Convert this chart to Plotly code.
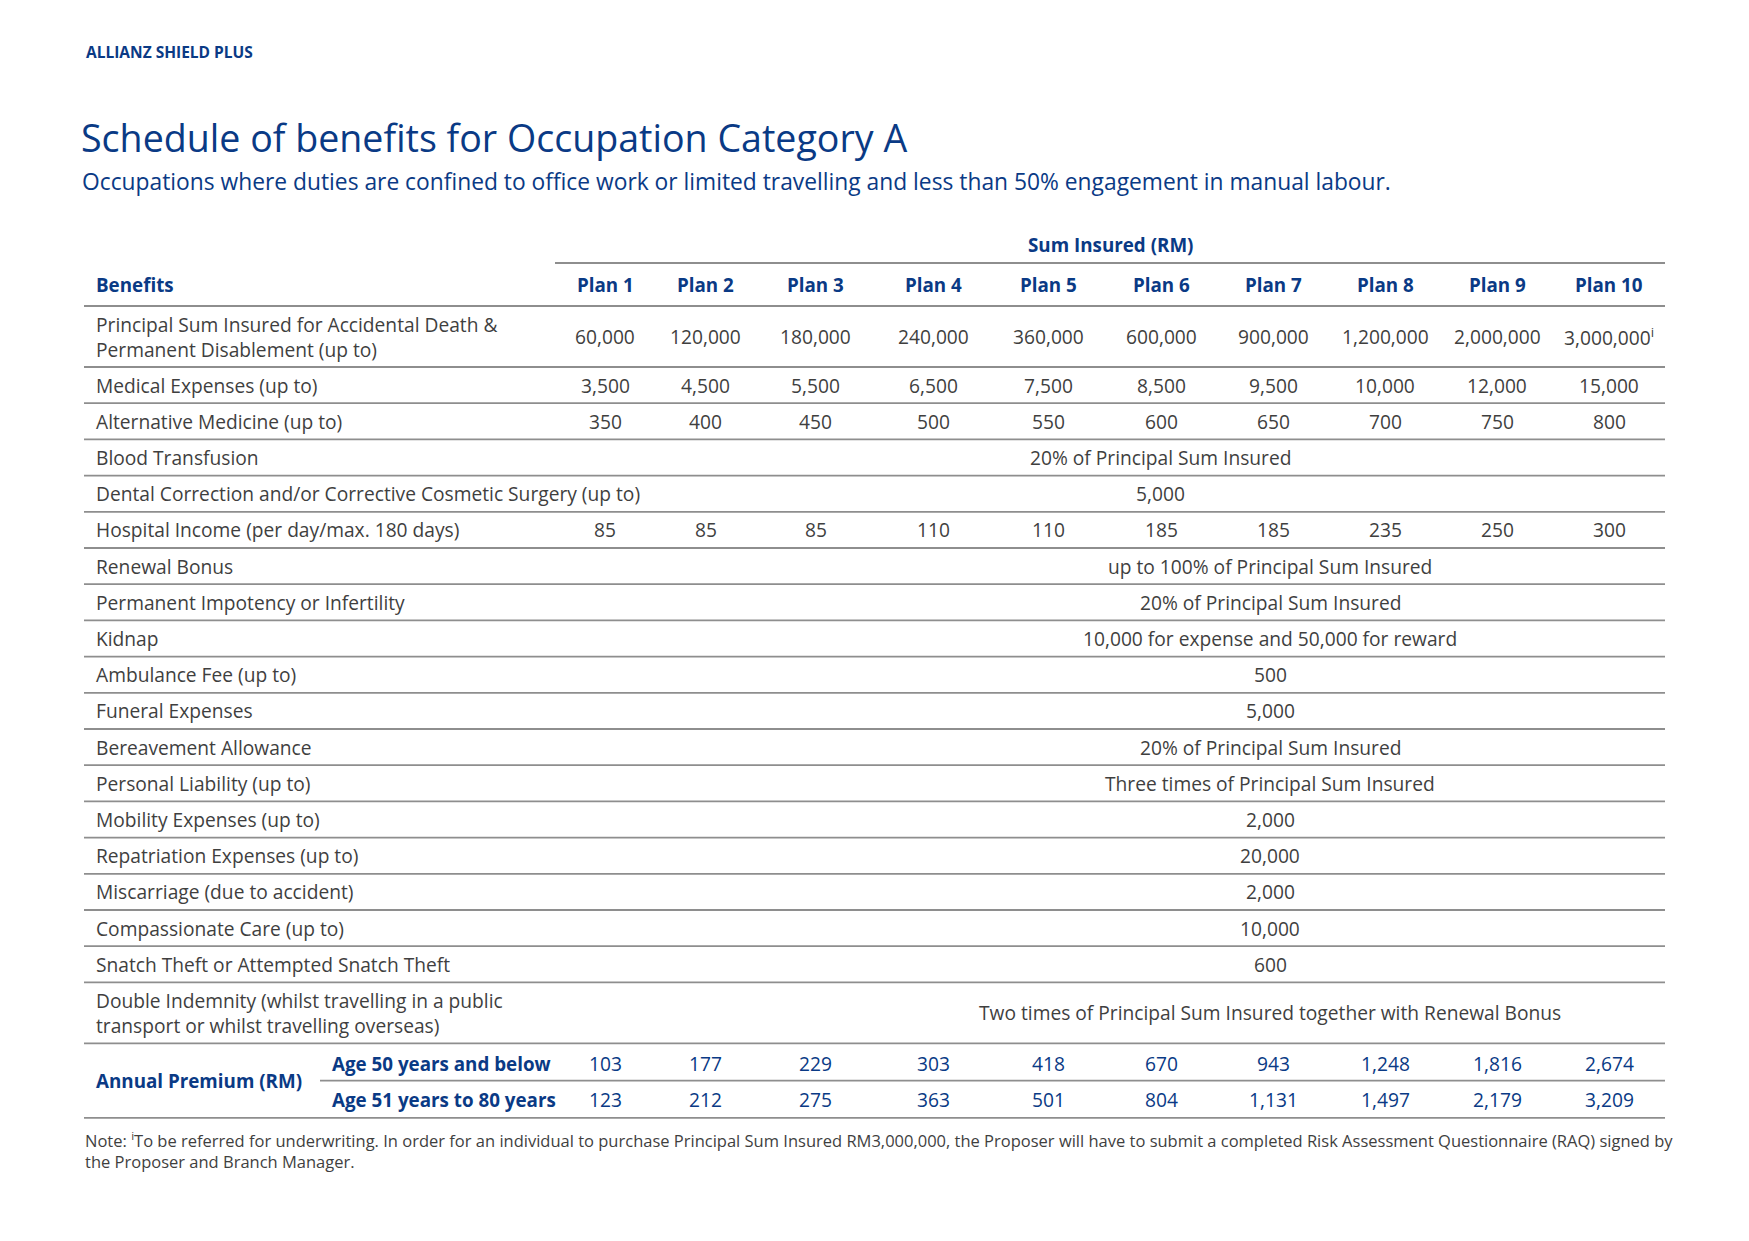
import plotly.graph_objects as go

# ---------------- data ----------------
brand = "ALLIANZ SHIELD PLUS"
title = "Schedule of benefits for Occupation Category A"
subtitle = ("Occupations where duties are confined to office work or limited travelling "
            "and less than 50% engagement in manual labour.")
group_header = "Sum Insured (RM)"
plans = ["Plan 1", "Plan 2", "Plan 3", "Plan 4", "Plan 5",
         "Plan 6", "Plan 7", "Plan 8", "Plan 9", "Plan 10"]

benefits = [
    "Principal Sum Insured for Accidental Death &<br>Permanent Disablement (up to)",
    "Medical Expenses (up to)",
    "Alternative Medicine (up to)",
    "Blood Transfusion",
    "Dental Correction and/or Corrective Cosmetic Surgery (up to)",
    "Hospital Income (per day/max. 180 days)",
    "Renewal Bonus",
    "Permanent Impotency or Infertility",
    "Kidnap",
    "Ambulance Fee (up to)",
    "Funeral Expenses",
    "Bereavement Allowance",
    "Personal Liability (up to)",
    "Mobility Expenses (up to)",
    "Repatriation Expenses (up to)",
    "Miscarriage (due to accident)",
    "Compassionate Care (up to)",
    "Snatch Theft or Attempted Snatch Theft",
    "Double Indemnity (whilst travelling in a public<br>transport or whilst travelling overseas)",
]

principal_sum = [60000, 120000, 180000, 240000, 360000, 600000, 900000, 1200000, 2000000, 3000000]
medical = [3500, 4500, 5500, 6500, 7500, 8500, 9500, 10000, 12000, 15000]
alt_medicine = [350, 400, 450, 500, 550, 600, 650, 700, 750, 800]
hospital_income = [85, 85, 85, 110, 110, 185, 185, 235, 250, 300]

# benefit values common to all plans (row index -> text)
common_values = {
    3: "20% of Principal Sum Insured",
    4: "5,000",
    6: "up to 100% of Principal Sum Insured",
    7: "20% of Principal Sum Insured",
    8: "10,000 for expense and 50,000 for reward",
    9: "500",
    10: "5,000",
    11: "20% of Principal Sum Insured",
    12: "Three times of Principal Sum Insured",
    13: "2,000",
    14: "20,000",
    15: "2,000",
    16: "10,000",
    17: "600",
    18: "Two times of Principal Sum Insured together with Renewal Bonus",
}
per_plan_values = {0: principal_sum, 1: medical, 2: alt_medicine, 5: hospital_income}
footnote_plan = 9  # plan 10 principal sum carries footnote mark

premium_label = "Annual Premium (RM)"
age_groups = ["Age 50 years and below", "Age 51 years to 80 years"]
premium_50_below = [103, 177, 229, 303, 418, 670, 943, 1248, 1816, 2674]
premium_51_80 = [123, 212, 275, 363, 501, 804, 1131, 1497, 2179, 3209]

note = ("Note: <sup>i</sup>To be referred for underwriting. In order for an individual to purchase "
        "Principal Sum Insured RM3,000,000, the Proposer will have to submit a completed Risk "
        "Assessment Questionnaire (RAQ) signed by<br>the Proposer and Branch Manager.")

# ---------------- layout / style ----------------
W, H = 1749, 1241
BLUE = "#0a3a85"
TEXT = "#3f3f3f"
LINE = "#8e8e8e"
FONT = "Open Sans"
BODY = 19.2
BOLD = 18.8

col_edges = [555, 655, 756, 875, 991, 1105, 1217, 1329, 1441, 1553, 1665]
col_centers = [(col_edges[i] + col_edges[i + 1]) / 2 for i in range(len(plans))]
table_left = 84
label_x = 94
row_h1, row_h2 = 36.2, 61.0
header_bottom = 306
span_start = {3: 1, 4: 1}  # others start at column 3

fig = go.Figure()
fig.update_layout(
    width=W, height=H, margin=dict(l=0, r=0, t=0, b=0),
    paper_bgcolor="white", plot_bgcolor="white", showlegend=False,
    xaxis=dict(range=[0, W], visible=False, fixedrange=True),
    yaxis=dict(range=[H, 0], visible=False, fixedrange=True),
)

ann = []
shapes = []


def text(x, y, s, size=BODY, color=TEXT, anchor="left", bold=False):
    if bold:
        s = "<b>" + s + "</b>"
    ann.append(dict(x=x, y=y, xref="x", yref="y", text=s, showarrow=False,
                    xanchor=anchor, yanchor="middle", align=anchor if anchor != "center" else "center",
                    font=dict(family=FONT, size=size, color=color)))


def hline(y, x0, x1, width=1.8):
    shapes.append(dict(type="line", xref="x", yref="y", x0=x0, x1=x1, y0=y, y1=y,
                       line=dict(color=LINE, width=width)))


def fmt(v):
    return f"{v:,}"


# header texts
text(84, 52, brand, size=15.5, color=BLUE, bold=True)
text(79, 137, title, size=37.6, color=BLUE)
text(80, 181, subtitle, size=22.8, color=BLUE)

text((col_edges[0] + col_edges[-1]) / 2, 245, group_header, size=BOLD, color=BLUE, bold=True, anchor="center")
hline(263, col_edges[0], col_edges[-1])
text(label_x, 285, "Benefits", size=BOLD, color=BLUE, bold=True)
for i, p in enumerate(plans):
    text(col_centers[i], 285, p, size=BOLD, color=BLUE, bold=True, anchor="center")
hline(header_bottom, table_left, col_edges[-1])

# benefit rows
y = header_bottom
for r, b in enumerate(benefits):
    h = row_h2 if "<br>" in b else row_h1
    yc = y + h / 2
    text(label_x, yc, b)
    if r in per_plan_values:
        for i, v in enumerate(per_plan_values[r]):
            s = fmt(v)
            if r == 0 and i == footnote_plan:
                s += "<sup>i</sup>"
            text(col_centers[i], yc, s, anchor="center")
    elif r in common_values:
        c0 = col_edges[span_start.get(r, 3)]
        text((c0 + col_edges[-1]) / 2, yc, common_values[r], anchor="center")
    y += h
    hline(y, table_left, col_edges[-1])

# premium rows
prem_top = y
text(label_x, prem_top + row_h1 + 1, premium_label, size=BOLD, color=BLUE, bold=True)
for k, (lab, vals) in enumerate(zip(age_groups, [premium_50_below, premium_51_80])):
    yc = prem_top + row_h1 * (k + 0.5) + 2
    text(330, yc, lab, size=BOLD, color=BLUE, bold=True)
    for i, v in enumerate(vals):
        text(col_centers[i], yc, fmt(v), color=BLUE, anchor="center")
hline(prem_top + row_h1 + 1, 320, col_edges[-1])
hline(prem_top + 2 * row_h1 + 2, table_left, col_edges[-1])

# note
ann.append(dict(x=83, y=1126, xref="x", yref="y", text=note, showarrow=False,
                xanchor="left", yanchor="top", align="left",
                font=dict(family=FONT, size=16.5, color=TEXT)))

fig.update_layout(annotations=ann, shapes=shapes)
fig.write_html("out.html", config={"displayModeBar": False},
               post_script="document.body.style.margin='0';")
